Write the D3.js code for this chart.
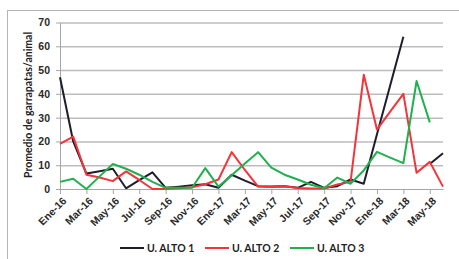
<!DOCTYPE html>
<html>
<head>
<meta charset="utf-8">
<script src="https://cdn.jsdelivr.net/npm/d3@7"></script>
<style>
  body { margin: 0; background: #fff; }
  svg { display: block; font-family: Lato, "Liberation Sans", sans-serif; font-weight: bold; }
  .grid line { stroke: #bdbdbd; stroke-width: 1.5; }
  .grid path { display: none; }
  .axis path, .axis line { stroke: #a6a6a6; stroke-width: 1; }
  .axis text { fill: #2a2a2a; font-size: 10.5px; font-weight: bold; }
</style>
</head>
<body>
<svg id="chart" width="459" height="259"></svg>
<script>
// meses (categorias)
const months = ["Ene-16","Feb-16","Mar-16","Abr-16","May-16","Jun-16","Jul-16","Ago-16","Sep-16","Oct-16","Nov-16","Dic-16",
                "Ene-17","Feb-17","Mar-17","Abr-17","May-17","Jun-17","Jul-17","Ago-17","Sep-17","Oct-17","Nov-17","Dic-17",
                "Ene-18","Feb-18","Mar-18","Abr-18","May-18","Jun-18"];

// promedio de garrapatas por animal
const alto1 = [47, 20, 6.5, 7.5, 8.5, 0.3, 3.7, 7, 0.5, 1, 1.6, 2, 0.5, 6, 3.5, 1.2, 1, 1.2, 0.5, 3, 0.5, 1.2, 4, 2.2, 23, 43.5, 64, null, 10.5, 15];
const alto2 = [19, 22, 6, 4.8, 3.3, 7.4, 3.8, 0, 0, 0.3, 0.7, 2, 4, 15.5, 8, 1, 0.8, 1.2, 0.4, 0.2, 0.2, 1.9, 3, 48, 25, 32.5, 40, 6.8, 11.4, 1];
const alto3 = [3, 4.3, 0, 5.3, 10.5, 8.5, 6, 3, 0.5, 0.5, 0.5, 8.8, 1, 5.8, 10.7, 15.5, 9, 6, 4, 1.8, 0.3, 4.8, 2.2, 7.8, 15.6, 13.2, 10.9, 45.4, 28, null];

const seriesNames = ["U. ALTO 1", "U. ALTO 2", "U. ALTO 3"];
const seriesColors = ["#1e1e2a", "#f5333a", "#1fb14e"];
const yTicks = [0, 10, 20, 30, 40, 50, 60, 70];
const xTickLabels = months.filter((d, i) => i % 2 === 0);

const svg = d3.select("#chart");

const x = d3.scalePoint().domain(months).range([60, 443]);
const y = d3.scaleLinear().domain([0, 70]).range([189, 22.5]);

// marco exterior
svg.append("rect")
    .attr("x", 7.5).attr("y", 10.5)
    .attr("width", 470).attr("height", 270)
    .attr("fill", "none")
    .attr("stroke", "#b5b5b5");

// lineas de cuadricula
svg.append("g")
    .attr("class", "grid")
    .attr("transform", "translate(60,0)")
    .call(d3.axisLeft(y).tickValues(yTicks.slice(1)).tickSize(-383).tickFormat(""));

// eje Y
svg.append("g")
    .attr("class", "axis")
    .attr("transform", "translate(60,0)")
    .call(d3.axisLeft(y).tickValues(yTicks).tickSize(4).tickSizeOuter(0).tickPadding(6));

// eje X
const xAxis = svg.append("g")
    .attr("class", "axis")
    .attr("transform", "translate(0,189)")
    .call(d3.axisBottom(x).tickValues(xTickLabels).tickSize(5).tickSizeOuter(0));

xAxis.selectAll("text")
    .attr("x", 0).attr("y", 0).attr("dy", "0.35em")
    .attr("text-anchor", "end")
    .attr("transform", "translate(4,10) rotate(-45)");

// titulo eje Y
svg.append("text")
    .attr("transform", "translate(28,105) rotate(-90)")
    .attr("text-anchor", "middle")
    .attr("dy", "0.35em")
    .attr("font-size", 10.5)
    .attr("fill", "#222")
    .text("Promedio de garrapatas/animal");

// series
const line = d3.line()
    .defined(d => d != null)
    .x((d, i) => x(months[i]))
    .y(d => y(d));

[alto1, alto2, alto3].forEach((vals, k) => {
    svg.append("path")
        .datum(vals)
        .attr("fill", "none")
        .attr("stroke", seriesColors[k])
        .attr("stroke-width", 2)
        .attr("stroke-linejoin", "round")
        .attr("d", line);
});

// leyenda
const legend = svg.append("g").attr("transform", "translate(120,248)");
seriesNames.forEach((name, k) => {
    const g = legend.append("g").attr("transform", `translate(${k * 85},0)`);
    g.append("line")
        .attr("x1", 0).attr("x2", 24)
        .attr("stroke", seriesColors[k])
        .attr("stroke-width", 2);
    g.append("text")
        .attr("x", 27)
        .attr("dy", "0.35em")
        .attr("font-size", 10.5)
        .attr("fill", "#222")
        .text(name);
});
</script>
</body>
</html>
